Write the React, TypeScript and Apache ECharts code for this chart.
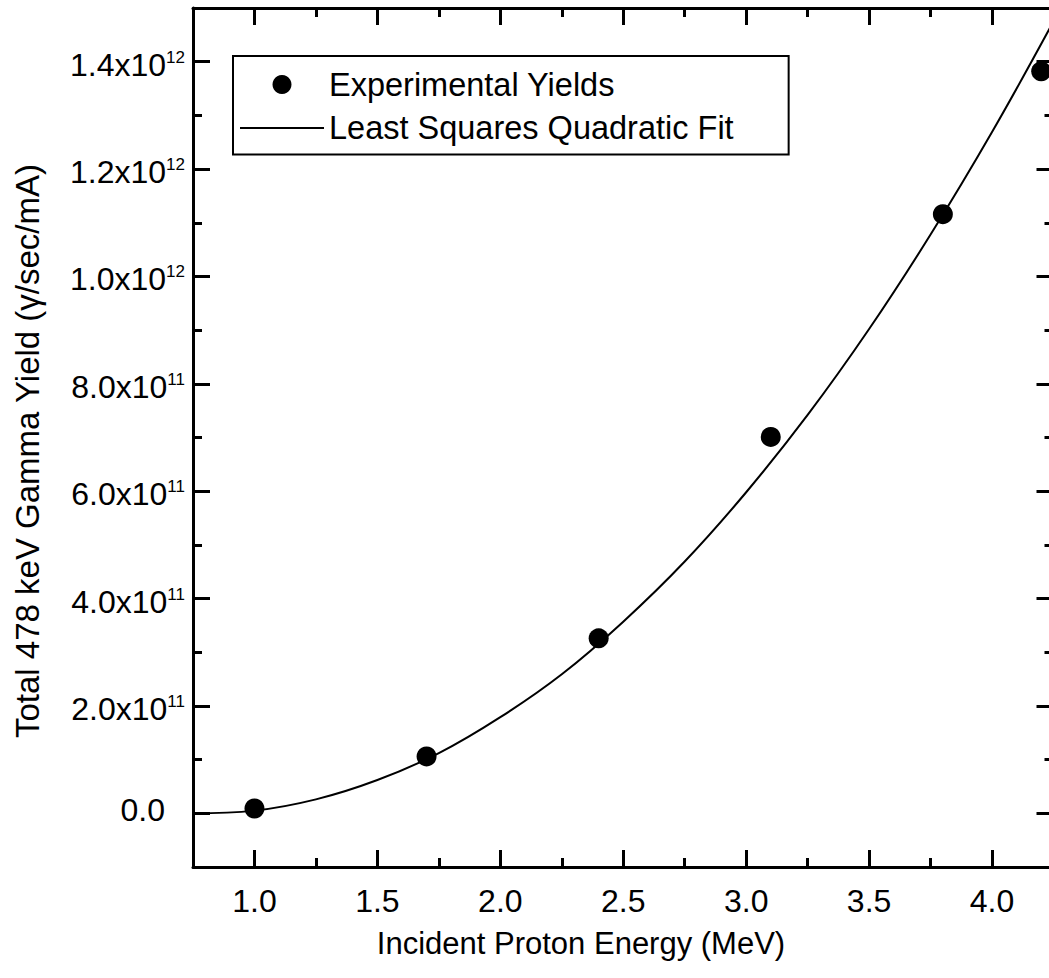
import { useEffect, useRef } from "react";
import * as echarts from "echarts";

// Measured gamma yields per incident proton energy
const energies = [1.0, 1.7, 2.4, 3.1, 3.8, 4.2];
const yields = [0.09e11, 1.06e11, 3.26e11, 7.01e11, 11.16e11, 13.82e11];

// Least squares quadratic fit, sampled along the energy axis
const fitEnergies = [0.75, 1.0, 1.25, 1.5, 1.75, 2.0, 2.25, 2.5, 2.75, 3.0, 3.25, 3.5, 3.75, 4.0, 4.25];
const fitYields = [
  0.0, 0.05e11, 0.26e11, 0.62e11, 1.12e11, 1.79e11, 2.59e11, 3.57e11, 4.69e11, 5.98e11,
  7.42e11, 9.02e11, 10.78e11, 12.69e11, 14.75e11,
];

// Axis ticks
const xMajorTicks = [1.0, 1.5, 2.0, 2.5, 3.0, 3.5, 4.0];
const xMinorTicks = [1.25, 1.75, 2.25, 2.75, 3.25, 3.75];
const yMajorTicks = [0, 2e11, 4e11, 6e11, 8e11, 1e12, 1.2e12, 1.4e12];
const yMinorTicks = [1e11, 3e11, 5e11, 7e11, 9e11, 1.1e12, 1.3e12];
// Labels in power-of-ten notation, plus the plain zero label
const yPowerLabels = yMajorTicks.filter((v) => v !== 0);
const yZeroLabel = [0];

const X_MIN = 0.75;
const X_MAX = 4.25;
const Y_MIN = -1e11;
const Y_MAX = 1.5e12;

const FONT = "'Liberation Sans', Arial, Helvetica, sans-serif";

function yLabel(v: number): string {
  if (v === 0) return "{b|0.0}{g| }";
  const exp = Math.floor(Math.log10(v) + 1e-9);
  const mant = v / Math.pow(10, exp);
  return `{b|${mant.toFixed(1)}x10}{s|${exp}}`;
}

function xAxisDef(position: "top" | "bottom", ticks: number[], len: number, withLabels: boolean, withLine: boolean) {
  return {
    type: "value",
    position,
    min: X_MIN,
    max: X_MAX,
    axisLine: { show: withLine, onZero: false, lineStyle: { color: "#000", width: 3 } },
    axisTick: { show: true, inside: true, length: len, customValues: ticks, lineStyle: { color: "#000", width: 3 } },
    axisLabel: withLabels
      ? {
          show: true,
          customValues: ticks,
          formatter: (v: number) => v.toFixed(1),
          fontSize: 32,
          fontFamily: FONT,
          color: "#000",
          margin: 18,
        }
      : { show: false },
    splitLine: { show: false },
  };
}

const yRich = {
  b: { fontSize: 32, fontFamily: FONT, color: "#000", lineHeight: 32, verticalAlign: "bottom" },
  s: { fontSize: 17, fontFamily: FONT, color: "#000", lineHeight: 17, verticalAlign: "top", padding: [0, 0, 21, 0] },
  g: { fontSize: 17, fontFamily: FONT, lineHeight: 17, width: 20 },
};

function yAxisDef(
  position: "left" | "right",
  ticks: number[],
  len: number,
  labels: number[] | null,
  labelPadding: number[],
  withLine: boolean
) {
  return {
    type: "value",
    position,
    min: Y_MIN,
    max: Y_MAX,
    axisLine: { show: withLine, onZero: false, lineStyle: { color: "#000", width: 3 } },
    axisTick: { show: true, inside: true, length: len, customValues: ticks, lineStyle: { color: "#000", width: 3 } },
    axisLabel: labels
      ? {
          show: true,
          customValues: labels,
          formatter: yLabel,
          margin: 8,
          padding: labelPadding,
          rich: yRich,
        }
      : { show: false },
    splitLine: { show: false },
  };
}

export default function App() {
  const ref = useRef<HTMLDivElement>(null);

  useEffect(() => {
    if (!ref.current) return;
    const chart = echarts.init(ref.current, null, { renderer: "svg" });
    chart.setOption({
      animation: false,
      backgroundColor: "#fff",
      grid: { left: 193, top: 8, right: 6.5, bottom: 111, containLabel: false },
      xAxis: [
        xAxisDef("bottom", xMajorTicks, 17, true, true),
        xAxisDef("bottom", xMinorTicks, 9, false, false),
        xAxisDef("top", xMajorTicks, 17, false, true),
        xAxisDef("top", xMinorTicks, 9, false, false),
      ],
      yAxis: [
        yAxisDef("left", yMajorTicks, 17, yPowerLabels, [6, 0, 0, 0], true),
        yAxisDef("left", yMinorTicks, 9, yZeroLabel, [0, 0, 6, 0], false),
        yAxisDef("right", yMajorTicks, 17, null, [0, 0, 0, 0], true),
        yAxisDef("right", yMinorTicks, 9, null, [0, 0, 0, 0], false),
      ],
      legend: {
        left: 233,
        top: 56,
        orient: "vertical",
        align: "left",
        borderColor: "#000",
        borderWidth: 2,
        padding: [12, 55, 10, 6],
        itemGap: 10.5,
        itemWidth: 84,
        itemHeight: 19,
        textStyle: { fontSize: 32.5, fontFamily: FONT, color: "#000" },
        data: [
          { name: "Experimental Yields" },
          { name: "Least Squares Quadratic Fit", itemStyle: { opacity: 0 } },
        ],
      },
      graphic: [
        {
          type: "text",
          x: 581,
          y: 943,
          style: {
            text: "Incident Proton Energy (MeV)",
            font: `31px ${FONT}`,
            fill: "#000",
            textAlign: "center",
            textVerticalAlign: "middle",
          },
        },
        {
          type: "text",
          x: 27,
          y: 451,
          rotation: Math.PI / 2,
          style: {
            text: "Total 478 keV Gamma Yield (\u03b3/sec/mA)",
            font: `33px ${FONT}`,
            fill: "#000",
            textAlign: "center",
            textVerticalAlign: "middle",
          },
        },
      ],
      series: [
        {
          name: "Least Squares Quadratic Fit",
          type: "line",
          xAxisIndex: 0,
          yAxisIndex: 0,
          data: fitEnergies.map((e, i) => [e, fitYields[i]]),
          smooth: 0.4,
          symbol: "none",
          clip: true,
          itemStyle: { color: "#000" },
          lineStyle: { color: "#000", width: 2 },
          z: 2,
        },
        {
          name: "Experimental Yields",
          type: "scatter",
          xAxisIndex: 0,
          yAxisIndex: 0,
          data: energies.map((e, i) => [e, yields[i]]),
          symbol: "circle",
          symbolSize: 20,
          clip: false,
          itemStyle: { color: "#000", opacity: 1 },
          z: 3,
        },
      ],
    });
    return () => chart.dispose();
  }, []);

  return (
    <div style={{ position: "fixed", left: 0, top: 0, width: 1049, height: 978, overflow: "hidden", background: "#fff" }}>
      <div ref={ref} style={{ width: 1060, height: 978 }} />
    </div>
  );
}
